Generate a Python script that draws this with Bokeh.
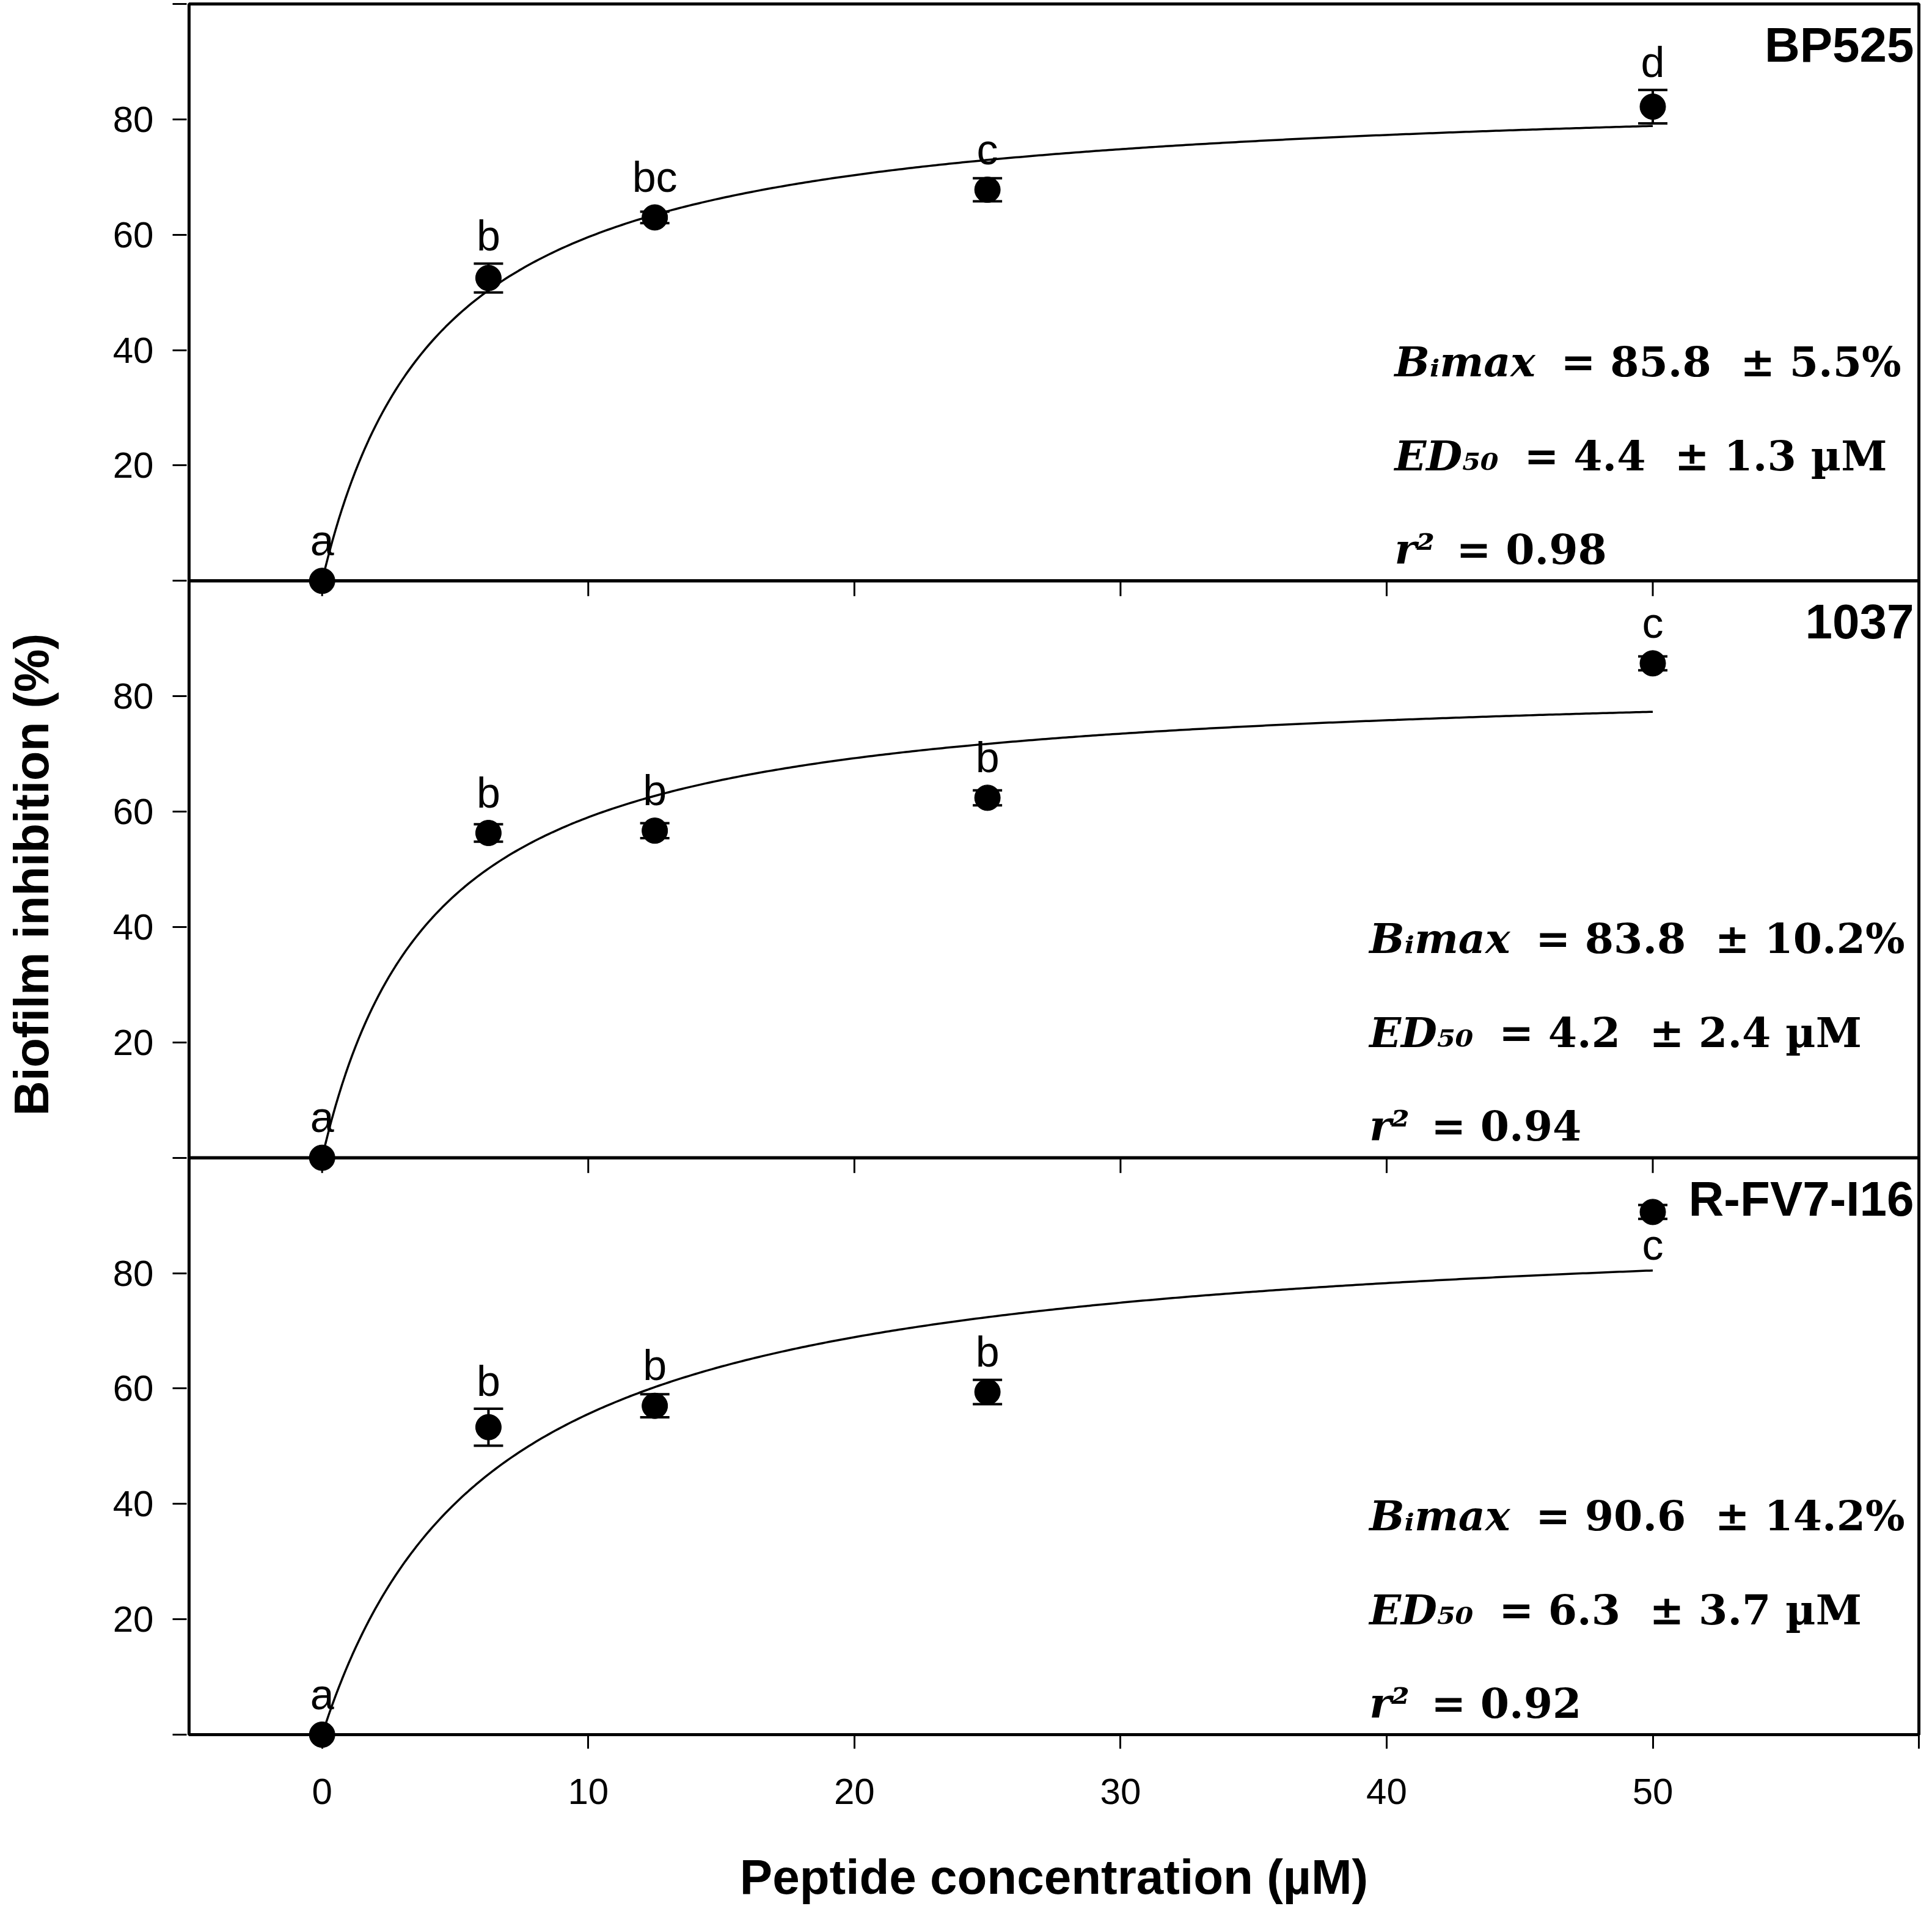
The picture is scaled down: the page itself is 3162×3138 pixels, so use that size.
import numpy as np
from bokeh.plotting import figure
from bokeh.models import (ColumnDataSource, Range1d, FixedTicker, BoxAnnotation,
                          Whisker, TeeHead)
from bokeh.core.properties import value
from bokeh.embed import file_html
from bokeh.resources import INLINE

# ---------------- data ----------------
conc = [0, 6.25, 12.5, 25, 50]
peptides = ["BP525", "1037", "R-FV7-I16"]

bp525_mean = [0.0, 52.5, 63.0, 67.8, 82.2]
bp525_err = [0.0, 2.5, 1.0, 2.0, 2.9]
p1037_mean = [0.0, 56.3, 56.7, 62.4, 85.7]
p1037_err = [0.0, 1.5, 1.3, 1.3, 1.2]
rfv_mean = [0.0, 53.3, 57.0, 59.4, 90.6]
rfv_err = [0.0, 3.2, 2.0, 2.1, 1.2]

bp525_letters = ["a", "b", "bc", "c", "d"]
p1037_letters = ["a", "b", "b", "b", "c"]
rfv_letters = ["a", "b", "b", "b", "c"]
bp525_letter_side = ["above", "above", "above", "above", "above"]
p1037_letter_side = ["above", "above", "above", "above", "above"]
rfv_letter_side = ["above", "above", "above", "above", "below"]

bimax = [85.8, 83.8, 90.6]
bimax_se = [5.5, 10.2, 14.2]
ed50 = [4.4, 4.2, 6.3]
ed50_se = [1.3, 2.4, 3.7]
r2 = [0.98, 0.94, 0.92]

x_ticks = [0, 10, 20, 30, 40, 50, 60]
x_tick_labels = ["0", "10", "20", "30", "40", "50", ""]
y_ticks_panel = [0, 20, 40, 60, 80]
y_tick_labels_panel = ["", "20", "40", "60", "80"]

means = [bp525_mean, p1037_mean, rfv_mean]
errs = [bp525_err, p1037_err, rfv_err]
letters = [bp525_letters, p1037_letters, rfv_letters]
sides = [bp525_letter_side, p1037_letter_side, rfv_letter_side]

# ---------------- layout ----------------
FRAME_W = 2839
PAD_X = 0.09
X0, X1 = -5 - PAD_X, 60 + PAD_X
PANEL_PX = (2839 - 6) / 3.0
PPU_Y = PANEL_PX / 100.0
PAD_TOP, PAD_BOT = 6, 23
FRAME_H = int(round(PAD_TOP + 3 * PANEL_PX + PAD_BOT))
Y0 = -PAD_BOT / PPU_Y
Y1 = 300 + PAD_TOP / PPU_Y
DOT = 42
SANS = "Liberation Sans"
SERIF = "DejaVu Serif"

p = figure(frame_width=FRAME_W, frame_height=FRAME_H,
           x_range=Range1d(X0, X1), y_range=Range1d(Y0, Y1),
           output_backend="svg", toolbar_location=None,
           min_border_left=305, min_border_right=2,
           min_border_top=0, min_border_bottom=3122 - FRAME_H,
           background_fill_color="white", border_fill_color="white")
p.outline_line_color = None
p.xgrid.grid_line_color = None
p.ygrid.grid_line_color = None

# y axis: three stacked panels of 0..100
yt, ylab = [], {}
for k in range(3):
    off = 100 * k
    for t, lab in zip(y_ticks_panel, y_tick_labels_panel):
        yt.append(t + off)
        ylab[t + off] = lab
yt.append(300)
ylab[300] = ""
yax = p.yaxis[0]
yax.ticker = FixedTicker(ticks=yt)
yax.major_label_overrides = ylab
yax.axis_line_color = None
yax.major_tick_out = 23
yax.major_tick_in = 0
yax.major_tick_line_width = 3
yax.minor_tick_line_color = None
yax.major_label_standoff = 31
yax.major_label_text_font = SANS
yax.major_label_text_font_size = "60px"
yax.major_label_text_color = "black"
yax.axis_label = "Biofilm inhibition (%)"
yax.axis_label_text_font = SANS
yax.axis_label_text_font_style = "bold"
yax.axis_label_text_font_size = "79px"
yax.axis_label_text_color = "black"
yax.axis_label_standoff = 86

xax = p.xaxis[0]
xax.ticker = FixedTicker(ticks=x_ticks)
xax.major_label_overrides = dict(zip(x_ticks, x_tick_labels))
xax.axis_line_color = None
xax.major_tick_out = 0
xax.major_tick_in = PAD_BOT
xax.major_tick_line_width = 3
xax.minor_tick_line_color = None
xax.major_label_standoff = 49
xax.major_label_text_font = SANS
xax.major_label_text_font_size = "60px"
xax.major_label_text_color = "black"
xax.axis_label = "Peptide concentration (µM)"
xax.axis_label_text_font = SANS
xax.axis_label_text_font_style = "bold"
xax.axis_label_text_font_size = "80px"
xax.axis_label_text_color = "black"
xax.axis_label_standoff = 72

xs = np.linspace(0, 50, 400)
ann_x = [40.3, 39.35, 39.35]
ann_y = [38.0, 21.7, 5.5]
eq_offsets = [272, 212, 101]
NB = "\u00a0"

for k in range(3):
    off = 100 * (2 - k)
    # panel frame
    p.add_layout(BoxAnnotation(left=-5, right=60, bottom=off, top=off + 100,
                               fill_color=None, fill_alpha=0, line_color="black",
                               line_alpha=1.0, line_width=5))
    # inner ticks hanging from the top edge of lower panels
    if k > 0:
        p.ray(x=x_ticks, y=[off + 100] * len(x_ticks), length=25, length_units="screen",
              angle=-np.pi / 2, line_width=3, line_color="black")
    # fitted hyperbola
    p.line(xs, bimax[k] * xs / (ed50[k] + xs) + off, line_width=3.5, line_color="black")

    m = np.array(means[k]) + off
    e = np.array(errs[k])
    keep = e > 0
    wsrc = ColumnDataSource(dict(x=np.array(conc)[keep], upper=(m + e)[keep], lower=(m - e)[keep]))
    p.add_layout(Whisker(source=wsrc, base="x", upper="upper", lower="lower",
                         dimension="height", line_width=4, line_color="black",
                         upper_head=TeeHead(size=48, line_width=4, line_color="black"),
                         lower_head=TeeHead(size=48, line_width=4, line_color="black")))
    p.scatter(conc, m, size=DOT, fill_color="black", line_color="black")

    # significance letters
    yoff = []
    for ei, s in zip(e, sides[k]):
        ext = max(ei * PPU_Y, DOT / 2)
        yoff.append(-(ext + 45) if s == "above" else 54)
    lsrc = ColumnDataSource(dict(x=conc, y=m, t=letters[k], yo=yoff))
    p.text(x="x", y="y", text="t", y_offset="yo", source=lsrc, text_align="center",
           text_baseline="middle", text_font=value(SANS), text_font_size="70px",
           text_color="black")

    # panel title
    p.text(x=[60], y=[off + 100], text=[peptides[k]], x_offset=-8, y_offset=67,
           text_align="right", text_baseline="middle", text_font=value(SANS),
           text_font_style="bold", text_font_size="80px", text_color="black")

    # fit parameters
    yy = [v + off for v in ann_y]
    p.text(x=[ann_x[k]] * 3, y=yy, text=["Bᵢmax", "ED₅₀", "r²"],
           text_align="left", text_baseline="middle", text_font=value(SERIF),
           text_font_style="bold italic", text_font_size="68px", text_color="black")
    rhs = [f"= {bimax[k]}{NB} ± {bimax_se[k]}%",
           f"= {ed50[k]}{NB} ± {ed50_se[k]} µM",
           f"= {r2[k]:.2f}"]
    p.text(x=[ann_x[k]] * 3, y=yy, text=rhs, x_offset=eq_offsets,
           text_align="left", text_baseline="middle", text_font=value(SERIF),
           text_font_style="bold", text_font_size="68px", text_color="black")

open("out.html", "w").write(file_html(p, INLINE))
